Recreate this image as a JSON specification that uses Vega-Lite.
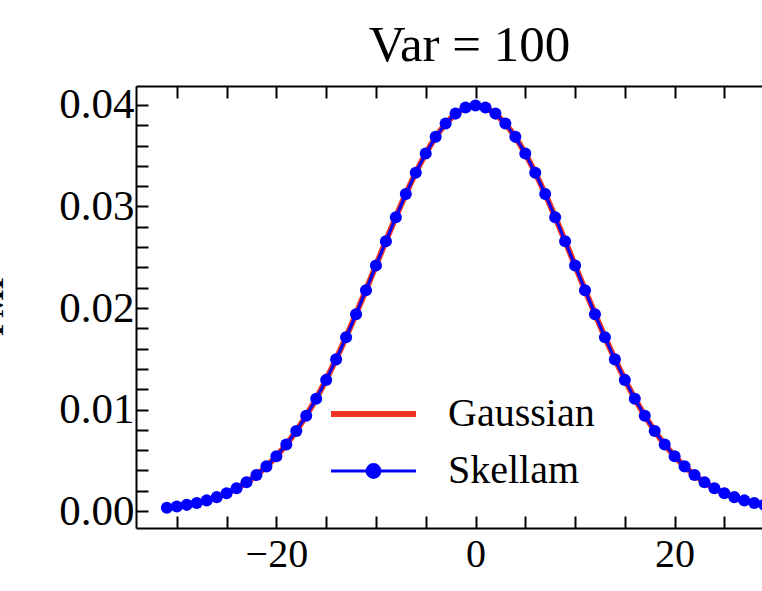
{
  "$schema": "https://vega.github.io/schema/vega-lite/v6.json",
  "width": 679,
  "height": 442,
  "autosize": {"type": "none"},
  "padding": {"left": 136, "top": 86, "right": 0, "bottom": 63},
  "background": "white",
  "title": {"text": "Var = 100", "font": "Liberation Serif", "fontSize": 51, "fontWeight": "normal", "color": "black", "offset": 12, "anchor": "middle", "dx": -6},
  "datasets": {
    "gauss": [
      {"k": -31, "p": 0.00033}, {"k": -30, "p": 0.00044}, {"k": -29, "p": 0.00060}, {"k": -28, "p": 0.00079},
      {"k": -27, "p": 0.00104}, {"k": -26, "p": 0.00136}, {"k": -25, "p": 0.00175}, {"k": -24, "p": 0.00224},
      {"k": -23, "p": 0.00283}, {"k": -22, "p": 0.00355}, {"k": -21, "p": 0.00440}, {"k": -20, "p": 0.00540},
      {"k": -19, "p": 0.00656}, {"k": -18, "p": 0.00790}, {"k": -17, "p": 0.00941}, {"k": -16, "p": 0.01109},
      {"k": -15, "p": 0.01295}, {"k": -14, "p": 0.01497}, {"k": -13, "p": 0.01714}, {"k": -12, "p": 0.01942},
      {"k": -11, "p": 0.02179}, {"k": -10, "p": 0.02420}, {"k": -9, "p": 0.02661}, {"k": -8, "p": 0.02897},
      {"k": -7, "p": 0.03123}, {"k": -6, "p": 0.03332}, {"k": -5, "p": 0.03521}, {"k": -4, "p": 0.03683},
      {"k": -3, "p": 0.03814}, {"k": -2, "p": 0.03910}, {"k": -1, "p": 0.03970}, {"k": 0, "p": 0.03989},
      {"k": 1, "p": 0.03970}, {"k": 2, "p": 0.03910}, {"k": 3, "p": 0.03814}, {"k": 4, "p": 0.03683},
      {"k": 5, "p": 0.03521}, {"k": 6, "p": 0.03332}, {"k": 7, "p": 0.03123}, {"k": 8, "p": 0.02897},
      {"k": 9, "p": 0.02661}, {"k": 10, "p": 0.02420}, {"k": 11, "p": 0.02179}, {"k": 12, "p": 0.01942},
      {"k": 13, "p": 0.01714}, {"k": 14, "p": 0.01497}, {"k": 15, "p": 0.01295}, {"k": 16, "p": 0.01109},
      {"k": 17, "p": 0.00941}, {"k": 18, "p": 0.00790}, {"k": 19, "p": 0.00656}, {"k": 20, "p": 0.00540},
      {"k": 21, "p": 0.00440}, {"k": 22, "p": 0.00355}, {"k": 23, "p": 0.00283}, {"k": 24, "p": 0.00224},
      {"k": 25, "p": 0.00175}, {"k": 26, "p": 0.00136}, {"k": 27, "p": 0.00104}, {"k": 28, "p": 0.00079},
      {"k": 29, "p": 0.00060}, {"k": 30, "p": 0.00044}, {"k": 31, "p": 0.00033}
    ],
    "skellam": [
      {"k": -31, "p": 0.00033}, {"k": -30, "p": 0.00045}, {"k": -29, "p": 0.00061}, {"k": -28, "p": 0.00080},
      {"k": -27, "p": 0.00105}, {"k": -26, "p": 0.00137}, {"k": -25, "p": 0.00176}, {"k": -24, "p": 0.00225},
      {"k": -23, "p": 0.00284}, {"k": -22, "p": 0.00355}, {"k": -21, "p": 0.00440}, {"k": -20, "p": 0.00539},
      {"k": -19, "p": 0.00655}, {"k": -18, "p": 0.00789}, {"k": -17, "p": 0.00939}, {"k": -16, "p": 0.01107},
      {"k": -15, "p": 0.01292}, {"k": -14, "p": 0.01494}, {"k": -13, "p": 0.01711}, {"k": -12, "p": 0.01939},
      {"k": -11, "p": 0.02176}, {"k": -10, "p": 0.02418}, {"k": -9, "p": 0.02658}, {"k": -8, "p": 0.02895},
      {"k": -7, "p": 0.03122}, {"k": -6, "p": 0.03333}, {"k": -5, "p": 0.03523}, {"k": -4, "p": 0.03686},
      {"k": -3, "p": 0.03818}, {"k": -2, "p": 0.03915}, {"k": -1, "p": 0.03975}, {"k": 0, "p": 0.03994},
      {"k": 1, "p": 0.03975}, {"k": 2, "p": 0.03915}, {"k": 3, "p": 0.03818}, {"k": 4, "p": 0.03686},
      {"k": 5, "p": 0.03523}, {"k": 6, "p": 0.03333}, {"k": 7, "p": 0.03122}, {"k": 8, "p": 0.02895},
      {"k": 9, "p": 0.02658}, {"k": 10, "p": 0.02418}, {"k": 11, "p": 0.02176}, {"k": 12, "p": 0.01939},
      {"k": 13, "p": 0.01711}, {"k": 14, "p": 0.01494}, {"k": 15, "p": 0.01292}, {"k": 16, "p": 0.01107},
      {"k": 17, "p": 0.00939}, {"k": 18, "p": 0.00789}, {"k": 19, "p": 0.00655}, {"k": 20, "p": 0.00539},
      {"k": 21, "p": 0.00440}, {"k": 22, "p": 0.00355}, {"k": 23, "p": 0.00284}, {"k": 24, "p": 0.00225},
      {"k": 25, "p": 0.00176}, {"k": 26, "p": 0.00137}, {"k": 27, "p": 0.00105}, {"k": 28, "p": 0.00080},
      {"k": 29, "p": 0.00061}, {"k": 30, "p": 0.00045}, {"k": 31, "p": 0.00033}
    ]
  },
  "config": {
    "view": {"stroke": null},
    "axis": {
      "grid": false,
      "domainColor": "black",
      "domainWidth": 2,
      "tickColor": "black",
      "tickWidth": 2,
      "labelFont": "Liberation Serif",
      "labelFontSize": 40,
      "labelColor": "black",
      "labelOverlap": false,
      "labelFlush": false,
      "titleFont": "Liberation Serif",
      "titleColor": "black"
    }
  },
  "layer": [
    {
      "data": {"name": "gauss"},
      "mark": {"type": "line", "strokeWidth": 6, "interpolate": "monotone"},
      "encoding": {
        "x": {
          "field": "k", "type": "quantitative",
          "scale": {"domain": [-34.1, 34.1], "nice": false, "zero": false},
          "axis": {
            "orient": "bottom", "title": null,
            "values": [-30, -25, -20, -15, -10, -5, 0, 5, 10, 15, 20, 25, 30],
            "format": "d",
            "labelExpr": "datum.value % 20 === 0 ? datum.label : ''",
            "tickSize": -12, "labelPadding": 18,
            "encode": {"ticks": {"update": {"y2": {"signal": "datum.value % 20 === 0 ? -12 : -6"}}}}
          }
        },
        "y": {
          "field": "p", "type": "quantitative",
          "scale": {"domain": [-0.00167, 0.04187], "nice": false, "zero": false},
          "axis": {
            "orient": "left",
            "values": [0, 0.002, 0.004, 0.006, 0.008, 0.01, 0.012, 0.014, 0.016, 0.018, 0.02, 0.022, 0.024, 0.026, 0.028, 0.03, 0.032, 0.034, 0.036, 0.038, 0.04],
            "labelExpr": "abs(datum.value * 100 - round(datum.value * 100)) < 1e-6 ? format(datum.value, '.2f') : ''",
            "labelFontSize": 43,
            "tickSize": -12, "labelPadding": 14,
            "encode": {"ticks": {"update": {"x2": {"signal": "abs(datum.value * 100 - round(datum.value * 100)) < 1e-6 ? 12 : 6"}}}},
            "title": "PMF", "titleFontSize": 30, "titleFontWeight": "bold",
            "titleX": -134, "titleY": 217, "titleBaseline": "alphabetic", "titleAngle": 270, "titleAlign": "center"
          }
        },
        "color": {
          "datum": "Gaussian", "type": "nominal",
          "scale": {"domain": ["Gaussian", "Skellam"], "range": ["#ee3322", "#0000ff"]},
          "legend": {
            "orient": "none", "legendX": 217.5, "legendY": 308, "title": null, "padding": 0,
            "labelFont": "Liberation Serif", "labelFontSize": 40, "labelColor": "black",
            "labelOffset": 54.5, "rowPadding": 17, "symbolSize": 900,
            "symbolType": "M-2.83,0H2.83",
            "encode": {
              "symbols": {
                "update": {
                  "shape": {"signal": "datum.value === 'Skellam' ? 'M-2.83,0H2.83M0.43,0A0.43,0.43,0,1,1,-0.43,0A0.43,0.43,0,1,1,0.43,0Z' : 'M-2.83,0H2.83'"},
                  "strokeWidth": {"signal": "datum.value === 'Skellam' ? 3 : 6"},
                  "fill": {"signal": "datum.value === 'Skellam' ? '#0000ff' : 'transparent'"},
                  "stroke": {"signal": "datum.value === 'Skellam' ? '#0000ff' : '#ee3322'"},
                  "opacity": {"value": 1}
                }
              }
            }
          }
        }
      }
    },
    {
      "data": {"name": "skellam"},
      "mark": {"type": "line", "strokeWidth": 3, "point": {"filled": true, "size": 145, "opacity": 1}},
      "encoding": {
        "x": {
          "field": "k", "type": "quantitative",
          "axis": {
            "orient": "top", "title": null, "labels": false,
            "values": [-30, -25, -20, -15, -10, -5, 0, 5, 10, 15, 20, 25, 30],
            "tickSize": -12,
            "encode": {"ticks": {"update": {"y2": {"signal": "datum.value % 20 === 0 ? 12 : 6"}}}}
          }
        },
        "y": {"field": "p", "type": "quantitative", "axis": null},
        "color": {"datum": "Skellam", "type": "nominal"}
      }
    }
  ],
  "resolve": {"axis": {"x": "independent", "y": "independent"}}
}
